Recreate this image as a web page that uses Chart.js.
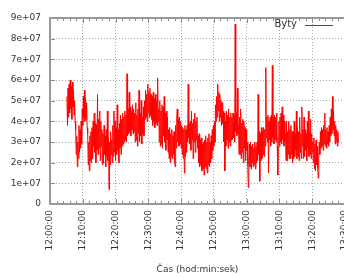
<!DOCTYPE html>
<html>
<head>
<meta charset="utf-8">
<script src="https://cdn.jsdelivr.net/npm/chart.js@4.4.1/dist/chart.umd.min.js"></script>
<style>
    html, body { margin: 0; padding: 0; background: #fff; overflow: hidden; }
    #wrap { width: 350px; height: 278px; }
</style>
</head>
<body>
<div id="wrap"><canvas id="chartByty" width="350" height="278"></canvas></div>
<script>
// Sampling: first sample at 12:05:10, then one every 10 s (seconds after 12:00:00)
const startSec = 310;
const stepSec = 10;

// Byty, in millions (1e+07 = 10)
const bytyMillions = [
    52, 38, 56, 42, 58, 44, 60, 46, 57, 41, 59, 47, 55, 43, 50, 40,
    36, 24, 33, 18, 30, 22,
    38, 25, 36, 27, 40, 29,
    46, 38, 52, 42, 55, 40, 51, 41, 49, 37,
    34, 19, 30, 16, 33, 21, 35, 20,
    37, 22, 40, 28, 44, 25, 39, 20, 38, 26, 53, 24, 41, 27, 45, 21, 40, 28, 36, 19,
    34, 20, 38, 24, 33, 18, 36, 23, 45, 21, 32, 7, 30, 19, 35, 24, 31, 20,
    38, 23, 45, 25, 40, 21, 37, 24, 48, 26, 36, 20, 39, 27, 43, 24, 41, 28,
    44, 29, 42, 30, 45, 31, 43, 30, 63, 33,
    46, 34, 54, 35, 47, 33, 45, 36, 48, 34, 46, 35,
    44, 30, 49, 31, 43, 28, 46, 34, 55, 30, 44, 33, 50, 29, 42, 34, 47, 33,
    50, 41, 55, 42, 53, 40, 58, 44, 54, 42, 56, 43, 53, 41,
    52, 38, 54, 40, 51, 37, 53, 39, 50, 38, 61, 40,
    46, 30, 50, 28, 45, 29, 48, 27, 47, 33, 52, 30, 44, 26, 45, 31, 42, 25,
    36, 22, 37, 20, 34, 23, 36, 22, 33, 24, 35, 21,
    18, 38, 27, 42, 46, 30, 41, 28, 42, 29, 40, 27,
    38, 24, 37, 22, 36, 15, 38, 23, 36, 25,
    38, 30, 58, 32, 39, 29,
    40, 26, 45, 31, 39, 22, 41, 30, 44, 25, 40, 31, 42, 27,
    33, 20, 34, 18, 31, 19, 32, 16, 29, 17, 30, 14, 31, 18, 33, 17, 30, 15, 32, 19, 34, 18, 30, 20, 33, 22,
    36, 26, 38, 28, 40, 30,
    48, 40, 52, 42, 58, 45, 54, 40, 53, 42, 50, 38, 49, 39,
    45, 30, 44, 16, 40, 28, 45, 31, 43, 27, 46, 30, 42, 28, 44, 31,
    42, 31, 44, 32, 43, 30, 87, 35, 44, 33, 56, 34,
    38, 24, 42, 24, 46, 22, 39, 25, 41, 20, 40, 27, 37, 21, 36, 26,
    30, 19, 8, 22, 29, 18, 30, 17, 28, 20, 29, 18, 27, 19, 30, 17, 28, 20, 30, 21,
    53, 24, 35, 11, 34, 21, 37, 22, 35, 24, 37, 23, 36, 28,
    66, 32, 42, 30, 43, 15, 40, 31,
    42, 28, 43, 30, 67, 32, 42, 29, 43, 31,
    42, 30, 44, 28, 14, 32, 40, 28, 42, 30, 44, 29, 47, 31, 43, 28, 40, 30,
    34, 21, 40, 21, 35, 24, 40, 22, 36, 22, 38, 24, 35, 20,
    35, 22, 40, 23, 34, 26, 45, 22, 37, 23, 35, 21, 42, 25, 34, 22, 47, 28,
    36, 22, 42, 23, 36, 26, 34, 21, 40, 27, 45, 23, 35, 24, 41, 22, 34, 25,
    30, 20, 32, 17, 29, 16, 31, 19, 28, 18, 12.5, 22, 30, 24,
    35, 27, 37, 28, 36, 26, 38, 29, 44, 28, 36, 27, 37, 29, 35, 28, 38, 30,
    42, 33, 46, 34, 52, 36, 45, 33,
    40, 29, 38, 30, 36, 28, 35, 30
];

const timeLabels = ['12:00:00', '12:10:00', '12:20:00', '12:30:00', '12:40:00',
    '12:50:00', '13:00:00', '13:10:00', '13:20:00', '13:30:00'];
const yLabels = ['0', '1e+07', '2e+07', '3e+07', '4e+07', '5e+07', '6e+07', '7e+07', '8e+07', '9e+07'];

const points = bytyMillions.map((v, i) => ({ x: startSec + i * stepSec, y: v }));

const textFont = { family: "'DejaVu Sans', sans-serif", size: 9 };
const gridDots = {
    color: '#a8a8a8',
    lineWidth: 1,
    drawTicks: false
};

// gnuplot-like frame, inward tics and key inside the top right corner
const gnuplotFrame = {
    id: 'gnuplotFrame',
    afterDatasetsDraw(chart) {
        const { ctx, chartArea: a, scales: { x, y } } = chart;
        ctx.save();
        ctx.strokeStyle = '#8c8c8c';
        ctx.lineWidth = 1;
        ctx.beginPath();
        for (let t = x.min; t <= x.max; t += 120) {
            const px = Math.round(x.getPixelForValue(t)) + 0.5;
            const len = t % 600 === 0 ? 5 : 3;
            ctx.moveTo(px, a.bottom); ctx.lineTo(px, a.bottom - len);
            ctx.moveTo(px, a.top); ctx.lineTo(px, a.top + len);
        }
        y.ticks.forEach(tk => {
            const py = Math.round(y.getPixelForValue(tk.value)) + 0.5;
            ctx.moveTo(a.left, py); ctx.lineTo(a.left + 5, py);
        });
        ctx.stroke();

        ctx.strokeStyle = '#999';
        ctx.lineWidth = 2;
        ctx.strokeRect(a.left, a.top, a.right - a.left, a.bottom - a.top);

        // key
        const ds = chart.data.datasets[0];
        ctx.font = "10px 'DejaVu Sans', sans-serif";
        ctx.fillStyle = '#333';
        ctx.textAlign = 'right';
        ctx.textBaseline = 'middle';
        ctx.fillText(ds.label, a.right - 48, a.top + 6);
        ctx.strokeStyle = ds.borderColor;
        ctx.lineWidth = 1;
        ctx.beginPath();
        ctx.moveTo(a.right - 40, a.top + 7.5);
        ctx.lineTo(a.right - 12, a.top + 7.5);
        ctx.stroke();
        ctx.restore();
    }
};

const ctxByty = document.getElementById('chartByty').getContext('2d');
new Chart(ctxByty, {
    type: 'line',
    data: {
        datasets: [{
            label: 'Byty',
            data: points,
            borderColor: '#ff0000',
            borderWidth: 1,
            pointRadius: 0,
            tension: 0,
            fill: false
        }]
    },
    options: {
        responsive: false,
        animation: false,
        layout: { padding: { top: 18, right: 5, left: 0, bottom: 0 } },
        plugins: {
            legend: { display: false },
            tooltip: { enabled: false }
        },
        scales: {
            x: {
                type: 'linear',
                min: 0,
                max: 5400,
                afterFit: s => { s.height = 74; s.paddingLeft = 0; s.paddingRight = 0; },
                grid: gridDots,
                border: { display: false, dash: [1, 2] },
                ticks: {
                    stepSize: 600,
                    minRotation: 90,
                    maxRotation: 90,
                    padding: 6,
                    color: '#333',
                    font: textFont,
                    callback: (v, i) => timeLabels[i]
                },
                title: {
                    display: true,
                    text: 'Čas (hod:min:sek)',
                    color: '#333',
                    font: textFont,
                    padding: { top: 0, bottom: 3 }
                }
            },
            y: {
                min: 0,
                max: 90,
                afterFit: s => { s.width = 50; s.paddingTop = 0; s.paddingBottom = 0; },
                grid: gridDots,
                border: { display: false, dash: [1, 2] },
                ticks: {
                    stepSize: 10,
                    padding: 9,
                    color: '#333',
                    font: textFont,
                    callback: (v, i) => yLabels[i]
                }
            }
        }
    },
    plugins: [gnuplotFrame]
});
</script>
</body>
</html>
